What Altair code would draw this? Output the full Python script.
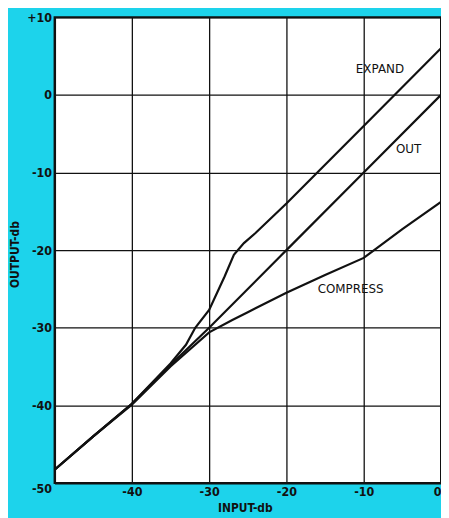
import altair as alt
import pandas as pd

# ---- data ----
out_x = [-50, -45, -40, -35, -30, -20, -10, 0]
out_y = [-48.3, -44.0, -39.8, -34.8, -30.0, -20.0, -10.0, 0.0]

expand_x = [-50, -45, -40, -35, -33, -31.8, -30, -28, -26.8, -25.5, -24, -20, -10, 0]
expand_y = [-48.3, -44.0, -39.8, -34.6, -32.2, -30.0, -27.7, -23.4, -20.6, -19.1, -17.8, -14.0, -4.0, 6.0]

compress_x = [-50, -45, -40, -35, -30, -27, -25, -20, -15, -10, -5, 0]
compress_y = [-48.3, -44.0, -39.9, -35.0, -30.6, -29.0, -28.0, -25.5, -23.2, -21.0, -17.3, -13.8]

label_text = ["EXPAND", "OUT", "COMPRESS"]
label_x = [-7.9, -4.2, -11.7]
label_y = [3.3, -7.0, -25.0]

x_ticks = [-50, -40, -30, -20, -10, 0]
y_ticks = [-50, -40, -30, -20, -10, 0, 10]

rows = []
for name, xs, ys in [("OUT", out_x, out_y), ("EXPAND", expand_x, expand_y), ("COMPRESS", compress_x, compress_y)]:
    for i, (a, b) in enumerate(zip(xs, ys)):
        rows.append({"series": name, "inp": a, "outp": b, "o": i})
df = pd.DataFrame(rows)
labels = pd.DataFrame({"t": label_text, "inp": label_x, "outp": label_y})

FONT = "DejaVu Sans Condensed, Liberation Sans Narrow, sans-serif"
LBL = "replace(datum.label, '\u2212', '-')"

xscale = alt.Scale(domain=[-50, 0], nice=False, zero=False)
yscale = alt.Scale(domain=[-50, 10], nice=False, zero=False)

xaxis = alt.Axis(
    values=x_ticks[1:], title="INPUT-db", ticks=False, labelPadding=3,
    labelExpr=LBL,
    labelFont=FONT, labelFontSize=12.5, labelFontWeight="bold", labelColor="#111",
    titleFont=FONT, titleFontSize=12, titleFontWeight="bold", titleColor="#111",
    titleX=192, titleY=29, titleBaseline="alphabetic", titleAnchor="middle",
    grid=True, gridColor="#111", gridWidth=1.3, gridOpacity=1,
    domain=True, domainColor="#111", domainWidth=2,
)
yaxis = alt.Axis(
    values=y_ticks, title="OUTPUT-db", ticks=False, labelPadding=3,
    labelExpr="datum.value > 0 ? '+' + datum.label : " + LBL,
    labelBaseline=alt.expr("datum.value == -50 ? 'top' : 'middle'"),
    labelFont=FONT, labelFontSize=12.5, labelFontWeight="bold", labelColor="#111",
    titleFont=FONT, titleFontSize=12, titleFontWeight="bold", titleColor="#111",
    titleX=-40, titleY=239, titleAngle=-90, titleBaseline="middle", titleAnchor="middle",
    grid=True, gridColor="#111", gridWidth=1.3, gridOpacity=1,
    domain=True, domainColor="#111", domainWidth=2,
)

lines = alt.Chart(df).mark_line(color="#111", strokeWidth=2.2).encode(
    x=alt.X("inp:Q", scale=xscale, axis=xaxis),
    y=alt.Y("outp:Q", scale=yscale, axis=yaxis),
    detail="series:N",
    order="o:Q",
)

text = alt.Chart(labels).mark_text(
    font="DejaVu Sans, sans-serif", fontSize=12, color="#111", align="center", baseline="middle"
).encode(
    x=alt.X("inp:Q", scale=xscale),
    y=alt.Y("outp:Q", scale=yscale),
    text="t:N",
)

chart = (lines + text).properties(
    width=390, height=470,
    autosize=alt.AutoSizeParams(type="none"),
    padding={"left": 47, "top": 7, "right": 0, "bottom": 33},
    background="#1DD3EB",
).configure_view(fill="white", stroke="#111", strokeWidth=2)

chart.save("out.html", embed_options={"renderer": "svg", "actions": False})
